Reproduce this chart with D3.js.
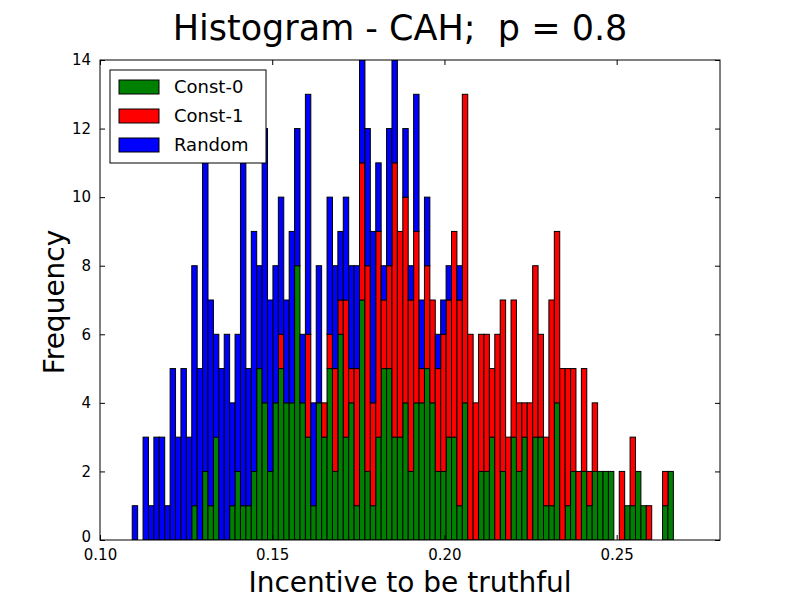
<!DOCTYPE html>
<html>
<head>
<meta charset="utf-8">
<script src="https://cdn.jsdelivr.net/npm/d3@7"></script>
<style>
  body { margin: 0; background: #fff; }
  text { font-family: "DejaVu Sans", sans-serif; }
</style>
</head>
<body>
<svg id="chart" width="800" height="600"></svg>
<script>
// bin range of the histogram (100 equal bins)
var binRange = [0.10936, 0.26646];
var seriesNames = ["Const-0", "Const-1", "Random"];
var seriesColors = ["#008000", "#ff0000", "#0000ff"];

// counts per bin, stacked bottom to top
var const0 = [0,0,0,0,0,0,0,0,0,0, 0,1,0,2,1,3,0,0,1,2, 1,1,2,5,4,2,4,5,4,4,
              8,4,3,1,4,3,5,2,6,3, 4,1,7,2,1,3,5,5,3,3, 4,2,4,4,5,4,2,2,3,3,
              1,4,0,0,2,2,3,0,2,0, 3,2,3,0,3,3,1,1,4,0, 1,2,0,2,1,2,2,2,2,0,
              0,1,1,2,1,0,0,0,1,2];
var const1 = [0,0,0,0,0,0,0,0,0,0, 0,0,0,0,0,0,0,0,0,0, 0,0,0,0,0,0,0,1,0,0,
              0,0,3,0,0,1,1,3,1,4, 1,4,4,6,3,6,2,3,8,6, 6,5,5,1,3,3,3,4,4,6,
              6,9,6,4,4,4,2,6,5,3, 4,2,1,4,5,3,2,6,5,5, 4,3,2,3,1,2,0,0,0,0,
              2,0,2,0,0,1,0,0,1,0];
var random = [1,0,3,1,3,3,1,5,3,5, 3,7,5,9,6,3,5,6,3,4, 10,4,7,3,8,5,4,4,3,5,
              4,2,7,3,4,0,4,3,2,3, 3,3,3,4,5,2,1,4,3,0, 2,1,4,2,2,0,1,1,1,0,
              1,0,0,0,0,0,0,0,0,0, 0,0,0,0,0,0,0,0,0,0, 0,0,0,0,0,0,0,0,0,0,
              0,0,0,0,0,0,0,0,0,0];

var xTicks = [0.10, 0.15, 0.20, 0.25];
var yTicks = [0, 2, 4, 6, 8, 10, 12, 14];

var margin = {left: 100, right: 80, top: 60, bottom: 60};
var W = 800, H = 600;
var svg = d3.select("#chart");

var x = d3.scaleLinear().domain([0.10, 0.28]).range([margin.left, W - margin.right]);
var y = d3.scaleLinear().domain([0, 14]).range([H - margin.bottom, margin.top]);

var nBins = const0.length;
var binW = (binRange[1] - binRange[0]) / nBins;
var rows = const0.map(function (d, i) {
    return {x0: binRange[0] + i * binW, x1: binRange[0] + (i + 1) * binW,
            "Const-0": d, "Const-1": const1[i], "Random": random[i]};
});
var stacked = d3.stack().keys(seriesNames)(rows);

svg.append("defs").append("clipPath").attr("id", "plotclip")
    .append("rect").attr("x", margin.left).attr("y", margin.top)
    .attr("width", W - margin.left - margin.right).attr("height", H - margin.top - margin.bottom);

var g = svg.append("g").attr("clip-path", "url(#plotclip)");
stacked.forEach(function (layer, k) {
    g.selectAll(null).data(layer.filter(function (d) { return d[1] > d[0]; }))
        .enter().append("rect")
        .attr("x", function (d) { return x(d.data.x0); })
        .attr("width", function (d) { return x(d.data.x1) - x(d.data.x0); })
        .attr("y", function (d) { return y(d[1]); })
        .attr("height", function (d) { return y(d[0]) - y(d[1]); })
        .attr("fill", seriesColors[k])
        .attr("stroke", "#000").attr("stroke-width", 1);
});

// axes (matplotlib classic: ticks inside on all sides)
var axB = svg.append("g").attr("transform", "translate(0," + (H - margin.bottom) + ")")
    .call(d3.axisBottom(x).tickValues(xTicks).tickFormat(d3.format(".2f")).tickSizeInner(-5).tickSizeOuter(0).tickPadding(9));
var axT = svg.append("g").attr("transform", "translate(0," + margin.top + ")")
    .call(d3.axisTop(x).tickValues(xTicks).tickFormat("").tickSizeInner(-5).tickSizeOuter(0));
var axL = svg.append("g").attr("transform", "translate(" + margin.left + ",0)")
    .call(d3.axisLeft(y).tickValues(yTicks).tickSizeInner(-5).tickSizeOuter(0).tickPadding(9));
var axR = svg.append("g").attr("transform", "translate(" + (W - margin.right) + ",0)")
    .call(d3.axisRight(y).tickValues(yTicks).tickFormat("").tickSizeInner(-5).tickSizeOuter(0));
[axB, axT, axL, axR].forEach(function (a) {
    a.select(".domain").remove();
    a.selectAll("line").attr("stroke", "#000");
    a.selectAll("text").attr("font-size", 15).attr("fill", "#000")
        .style("font-family", "DejaVu Sans");
});
// lift the y=0 label a little so it clears the 0.10 label
axL.selectAll(".tick").filter(function (d) { return d === 0; }).select("text").attr("dy", "0.1em");

svg.append("rect").attr("x", margin.left).attr("y", margin.top)
    .attr("width", W - margin.left - margin.right).attr("height", H - margin.top - margin.bottom)
    .attr("fill", "none").attr("stroke", "#000").attr("stroke-width", 1);

// titles
svg.append("text").attr("x", W / 2).attr("y", 40).attr("text-anchor", "middle")
    .attr("font-size", 35).style("white-space", "pre").text("Histogram - CAH;  p = 0.8");
svg.append("text").attr("x", 410).attr("y", 592).attr("text-anchor", "middle")
    .attr("font-size", 28).text("Incentive to be truthful");
svg.append("text").attr("transform", "translate(64,302) rotate(-90)").attr("text-anchor", "middle")
    .attr("font-size", 28).text("Frequency");

// legend
var lg = svg.append("g").attr("transform", "translate(110,70)");
lg.append("rect").attr("width", 156).attr("height", 93)
    .attr("fill", "#fff").attr("stroke", "#000").attr("stroke-width", 1);
seriesNames.forEach(function (name, i) {
    lg.append("rect").attr("x", 9).attr("y", 10 + i * 29).attr("width", 40).attr("height", 14)
        .attr("fill", seriesColors[i]).attr("stroke", "#000");
    lg.append("text").attr("x", 64).attr("y", 23 + i * 29).attr("font-size", 18).text(name);
});
</script>
</body>
</html>
